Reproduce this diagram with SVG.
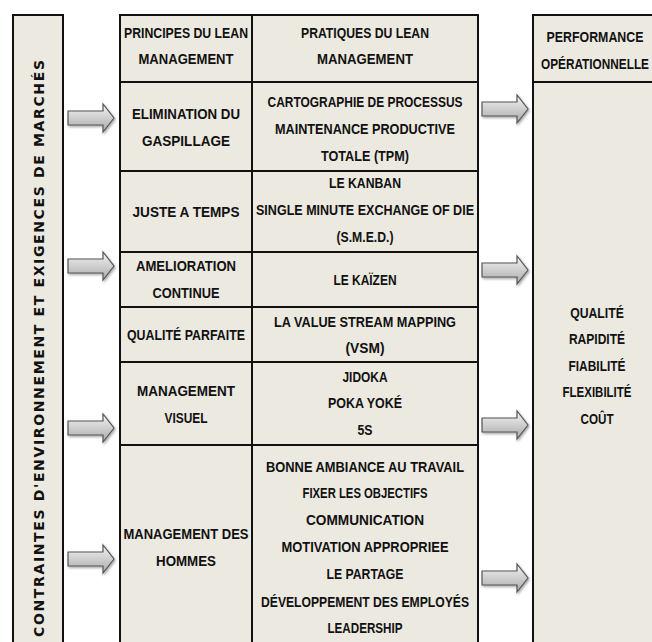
<svg xmlns="http://www.w3.org/2000/svg" width="652" height="642" viewBox="0 0 652 642">
<defs>
<style>
.box{fill:#ECE9E0;stroke:#111;stroke-width:2}
.fill{fill:#ECE9E0}
.ln{stroke:#111;stroke-width:2;fill:none}
.t{font-family:"Liberation Sans",Arial,sans-serif;font-weight:bold;font-size:15.5px;fill:#111;text-anchor:middle}
.side{font-family:"DejaVu Sans",Verdana,sans-serif;font-weight:bold;font-size:14px;fill:#111}
.arr{fill:url(#ag);stroke:#555;stroke-width:1.2;filter:url(#sh)}
</style>
<linearGradient id="ag" x1="0" y1="0" x2="0" y2="1">
<stop offset="0" stop-color="#f4f4f4"/>
<stop offset="1" stop-color="#a9a9a9"/>
</linearGradient>
<filter id="sh" x="-20%" y="-30%" width="150%" height="170%">
<feDropShadow dx="1.2" dy="1.5" stdDeviation="1" flood-color="#000" flood-opacity="0.35"/>
</filter>
<path id="arrow" d="M0,-7 H35 V-14 L46,0 L35,14 V7 H0 Z"/>
</defs>
<rect width="652" height="642" fill="#fff"/>

<g id="contraintes">
<rect class="box" x="13" y="15" width="50" height="640"/>
<text class="side" transform="translate(43.5,637) rotate(-90)" textLength="577" lengthAdjust="spacing">CONTRAINTES D'ENVIRONNEMENT ET EXIGENCES DE MARCHÉS</text>
</g>

<g id="table">
<rect class="box" x="120" y="15" width="358" height="640"/>
<line class="ln" x1="252" y1="15" x2="252" y2="642"/>
<line class="ln" x1="120" y1="82" x2="478" y2="82"/>
<line class="ln" x1="120" y1="171" x2="478" y2="171"/>
<line class="ln" x1="120" y1="252" x2="478" y2="252"/>
<line class="ln" x1="120" y1="307" x2="478" y2="307"/>
<line class="ln" x1="120" y1="362" x2="478" y2="362"/>
<line class="ln" x1="120" y1="445" x2="478" y2="445"/>
</g>

<g id="header-principes">
<text class="t" x="186" y="38" textLength="124" lengthAdjust="spacingAndGlyphs">PRINCIPES DU LEAN</text>
<text class="t" x="186" y="64" textLength="95" lengthAdjust="spacingAndGlyphs">MANAGEMENT</text>
</g>
<g id="header-pratiques">
<text class="t" x="365" y="38" textLength="128" lengthAdjust="spacingAndGlyphs">PRATIQUES DU LEAN</text>
<text class="t" x="365" y="64" textLength="96" lengthAdjust="spacingAndGlyphs">MANAGEMENT</text>
</g>

<g id="p-elimination">
<text class="t" x="186" y="119" textLength="108" lengthAdjust="spacingAndGlyphs">ELIMINATION DU</text>
<text class="t" x="186" y="146" textLength="88" lengthAdjust="spacingAndGlyphs">GASPILLAGE</text>
</g>
<g id="pr-elimination">
<text class="t" x="365" y="107" textLength="195" lengthAdjust="spacingAndGlyphs">CARTOGRAPHIE DE PROCESSUS</text>
<text class="t" x="365" y="134" textLength="180" lengthAdjust="spacingAndGlyphs">MAINTENANCE PRODUCTIVE</text>
<text class="t" x="365" y="161" textLength="88" lengthAdjust="spacingAndGlyphs">TOTALE (TPM)</text>
</g>

<g id="p-jat">
<text class="t" x="186" y="217" textLength="107" lengthAdjust="spacingAndGlyphs">JUSTE A TEMPS</text>
</g>
<g id="pr-jat">
<text class="t" x="365" y="188" textLength="72" lengthAdjust="spacingAndGlyphs">LE KANBAN</text>
<text class="t" x="365" y="215" textLength="218" lengthAdjust="spacingAndGlyphs">SINGLE MINUTE EXCHANGE OF DIE</text>
<text class="t" x="365" y="242" textLength="57" lengthAdjust="spacingAndGlyphs">(S.M.E.D.)</text>
</g>

<g id="p-amelioration">
<text class="t" x="186" y="271" textLength="100" lengthAdjust="spacingAndGlyphs">AMELIORATION</text>
<text class="t" x="186" y="298" textLength="67" lengthAdjust="spacingAndGlyphs">CONTINUE</text>
</g>
<g id="pr-amelioration">
<text class="t" x="365" y="285" textLength="63" lengthAdjust="spacingAndGlyphs">LE KAÏZEN</text>
</g>

<g id="p-qualite">
<text class="t" x="186" y="340" textLength="118" lengthAdjust="spacingAndGlyphs">QUALITÉ PARFAITE</text>
</g>
<g id="pr-qualite">
<text class="t" x="365" y="327" textLength="182" lengthAdjust="spacingAndGlyphs">LA VALUE STREAM MAPPING</text>
<text class="t" x="365" y="353" textLength="39" lengthAdjust="spacingAndGlyphs">(VSM)</text>
</g>

<g id="p-visuel">
<text class="t" x="186" y="396" textLength="98" lengthAdjust="spacingAndGlyphs">MANAGEMENT</text>
<text class="t" x="186" y="423" textLength="43" lengthAdjust="spacingAndGlyphs">VISUEL</text>
</g>
<g id="pr-visuel">
<text class="t" x="365" y="382" textLength="45" lengthAdjust="spacingAndGlyphs">JIDOKA</text>
<text class="t" x="365" y="408" textLength="74" lengthAdjust="spacingAndGlyphs">POKA YOKÉ</text>
<text class="t" x="365" y="435" textLength="15" lengthAdjust="spacingAndGlyphs">5S</text>
</g>

<g id="p-hommes">
<text class="t" x="186" y="539" textLength="125" lengthAdjust="spacingAndGlyphs">MANAGEMENT DES</text>
<text class="t" x="186" y="566" textLength="60" lengthAdjust="spacingAndGlyphs">HOMMES</text>
</g>
<g id="pr-hommes">
<text class="t" x="365" y="472" textLength="198" lengthAdjust="spacingAndGlyphs">BONNE AMBIANCE AU TRAVAIL</text>
<text class="t" x="365" y="498" textLength="125" lengthAdjust="spacingAndGlyphs">FIXER LES OBJECTIFS</text>
<text class="t" x="365" y="525" textLength="118" lengthAdjust="spacingAndGlyphs">COMMUNICATION</text>
<text class="t" x="365" y="552" textLength="167" lengthAdjust="spacingAndGlyphs">MOTIVATION APPROPRIEE</text>
<text class="t" x="365" y="579" textLength="77" lengthAdjust="spacingAndGlyphs">LE PARTAGE</text>
<text class="t" x="365" y="607" textLength="208" lengthAdjust="spacingAndGlyphs">DÉVELOPPEMENT DES EMPLOYÉS</text>
<text class="t" x="365" y="633" textLength="75" lengthAdjust="spacingAndGlyphs">LEADERSHIP</text>
</g>

<g id="performance">
<rect class="fill" x="533" y="15" width="119" height="627"/>
<path class="ln" d="M652,15 H533 V642 M533,82 H652"/>
<text class="t" transform="translate(595,42) scale(0.8,1)" x="0" y="0" textLength="121" lengthAdjust="spacingAndGlyphs">PERFORMANCE</text>
<text class="t" transform="translate(595,69) scale(0.76,1)" x="0" y="0" textLength="142" lengthAdjust="spacingAndGlyphs">OPÉRATIONNELLE</text>
<text class="t" transform="translate(597,318) scale(0.79,1)" x="0" y="0" textLength="68" lengthAdjust="spacingAndGlyphs">QUALITÉ</text>
<text class="t" transform="translate(597,344) scale(0.77,1)" x="0" y="0" textLength="73" lengthAdjust="spacingAndGlyphs">RAPIDITÉ</text>
<text class="t" transform="translate(597,371) scale(0.77,1)" x="0" y="0" textLength="74" lengthAdjust="spacingAndGlyphs">FIABILITÉ</text>
<text class="t" transform="translate(597,397) scale(0.74,1)" x="0" y="0" textLength="93" lengthAdjust="spacingAndGlyphs">FLEXIBILITÉ</text>
<text class="t" transform="translate(597,424) scale(0.75,1)" x="0" y="0" textLength="44" lengthAdjust="spacingAndGlyphs">COÛT</text>
</g>

<g id="connectors">
<use href="#arrow" class="arr" x="68" y="118"/>
<use href="#arrow" class="arr" x="68" y="266"/>
<use href="#arrow" class="arr" x="68" y="428"/>
<use href="#arrow" class="arr" x="68" y="559"/>
<use href="#arrow" class="arr" x="482" y="109"/>
<use href="#arrow" class="arr" x="482" y="270"/>
<use href="#arrow" class="arr" x="482" y="425"/>
<use href="#arrow" class="arr" x="482" y="578"/>
</g>
</svg>
